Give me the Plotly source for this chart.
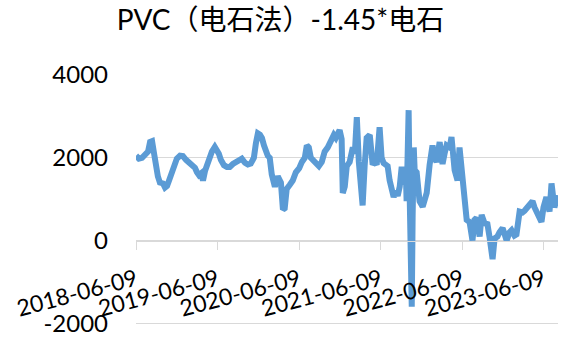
import plotly.graph_objects as go

# Spread series: PVC (carbide route) minus 1.45 x calcium carbide
dates = [
    "2018-06-09", "2018-06-22", "2018-07-06", "2018-07-19", "2018-08-02", "2018-08-11",
    "2018-08-20", "2018-08-29", "2018-09-06", "2018-09-15", "2018-09-24", "2018-10-08",
    "2018-10-17", "2018-10-26", "2018-11-04", "2018-11-13", "2018-11-26", "2018-12-09",
    "2018-12-23", "2019-01-05", "2019-01-19", "2019-02-01", "2019-02-14", "2019-02-28",
    "2019-03-09", "2019-03-18", "2019-03-27", "2019-04-05", "2019-04-14", "2019-04-23",
    "2019-05-02", "2019-05-15", "2019-05-28", "2019-06-15", "2019-06-24", "2019-07-08",
    "2019-07-21", "2019-08-03", "2019-08-17", "2019-08-30", "2019-09-13", "2019-09-26",
    "2019-10-10", "2019-10-23", "2019-11-05", "2019-11-19", "2019-11-28", "2019-12-07",
    "2019-12-16", "2019-12-25", "2020-01-03", "2020-01-11", "2020-01-20", "2020-01-29",
    "2020-02-07", "2020-02-21", "2020-03-05", "2020-03-19", "2020-03-28", "2020-04-05",
    "2020-04-14", "2020-04-28", "2020-05-11", "2020-05-25", "2020-06-09", "2020-06-21",
    "2020-07-04", "2020-07-13", "2020-07-22", "2020-07-31", "2020-08-09", "2020-08-22",
    "2020-09-05", "2020-09-18", "2020-10-01", "2020-10-15", "2020-10-28", "2020-11-11",
    "2020-11-20", "2020-11-29", "2020-12-07", "2020-12-16", "2020-12-21", "2020-12-30",
    "2021-01-08", "2021-01-21", "2021-02-04", "2021-02-13", "2021-02-22", "2021-03-03",
    "2021-03-11", "2021-03-20", "2021-03-29", "2021-04-07", "2021-04-21", "2021-05-04",
    "2021-05-13", "2021-05-22", "2021-06-04", "2021-06-13", "2021-06-22", "2021-07-01",
    "2021-07-10", "2021-07-19", "2021-07-28", "2021-08-06", "2021-08-15", "2021-08-24",
    "2021-09-02", "2021-09-11", "2021-09-20", "2021-09-29", "2021-10-03", "2021-10-08",
    "2021-10-12", "2021-10-17", "2021-10-21", "2021-10-26", "2021-10-30", "2021-11-04",
    "2021-11-08", "2021-11-17", "2021-11-30", "2021-12-14", "2021-12-23", "2022-01-01",
    "2022-01-14", "2022-01-27", "2022-02-05", "2022-02-14", "2022-02-28", "2022-03-13",
    "2022-03-22", "2022-03-31", "2022-04-14", "2022-04-22", "2022-05-06", "2022-05-19",
    "2022-05-28", "2022-06-09", "2022-06-20", "2022-06-29", "2022-07-12", "2022-07-25",
    "2022-08-03", "2022-08-12", "2022-08-26", "2022-09-04", "2022-09-17", "2022-09-30",
    "2022-10-09", "2022-10-23", "2022-11-01", "2022-11-14", "2022-11-23", "2022-12-07",
    "2022-12-16", "2022-12-25", "2023-01-07", "2023-01-16", "2023-01-29", "2023-02-07",
    "2023-02-21", "2023-03-06", "2023-03-15", "2023-03-28", "2023-04-06", "2023-04-20",
    "2023-04-29", "2023-05-07", "2023-05-21", "2023-05-30", "2023-06-08", "2023-06-21",
    "2023-07-05", "2023-07-14", "2023-07-27", "2023-08-10",
]
spread = [
    2050, 1980, 2000, 2080, 2150, 2380,
    2400, 2100, 1750, 1550, 1400, 1380,
    1280, 1320, 1450, 1600, 1800, 1980,
    2050, 2040, 1950, 1900, 1850, 1760,
    1650, 1580, 1620, 1450, 1680, 1820,
    2050, 2150, 2260, 2100, 1950, 1820,
    1780, 1780, 1850, 1900, 1950, 1980,
    1880, 1840, 1860, 2000, 2350, 2590,
    2560, 2480, 2300, 2150, 2050, 2000,
    1600, 1300, 1550, 1400, 750, 780,
    1250, 1350, 1450, 1650, 1750, 1900,
    2000, 2300, 2250, 2000, 1950, 1850,
    1800, 1900, 2150, 2250, 2400, 2550,
    2480, 2600, 2670, 2450, 1150, 1300,
    1800, 1900, 2250, 2100, 2980, 1900,
    1500, 850, 1800, 2480, 2550, 1830,
    1900, 1830, 2740, 2000, 1870, 1820,
    1800, 1450, 1150, 1050, 1200, 1080,
    1300, 1780, 1350, 1750, 950, 2400,
    3150, 1000, 200, -1600, 600, 2250,
    1700, 1650, 950, 820, 1000, 1150,
    1830, 2300, 2000, 1900, 2380, 1850,
    2100, 2300, 2250, 2500, 1700, 1450,
    2250, 1700, 1200, 500, 450, 0,
    500, 550, 100, 620, 420, 400,
    100, -450, 50, 100, 200, 300,
    150, 0, 200, 250, 120, 150,
    700, 680, 720, 820, 850, 950,
    800, 700, 550, 450, 800, 1050,
    700, 1380, 800, 1100,
]

x_ticks = ["2018-06-09", "2019-06-09", "2020-06-09", "2021-06-09", "2022-06-09", "2023-06-09"]
y_ticks = [-2000, 0, 2000, 4000]
y_tick_text = ["-2000", "0", "2000", "4000"]

LATIN = "Lato, 'Noto Sans CJK SC', sans-serif"
GRID = "#D9D9D9"

# value axis padded a little below -2000 so its gridline is not clipped at the edge
Y_MIN, Y_MAX = -2040, 4000

fig = go.Figure()
fig.add_trace(go.Scatter(
    x=dates, y=spread, mode="lines",
    line=dict(color="#5B9BD5", width=6),
    hoverinfo="skip", showlegend=False,
))

fig.update_layout(
    width=561, height=340,
    margin=dict(l=136, r=3, t=75, b=11),
    paper_bgcolor="white", plot_bgcolor="white",
    title=dict(
        text="PVC（电石法）-1.45*电石",
        x=0.5, xanchor="center", xref="container",
        y=0.94, yanchor="middle", yref="container",
        font=dict(family=LATIN, size=28, color="#000000"),
    ),
    xaxis=dict(
        type="date",
        range=["2018-06-09", "2023-08-12"],
        tickvals=x_ticks, ticktext=x_ticks,
        tickangle=-15,
        # date axis crosses the value axis at 0
        anchor="free", position=(0 - Y_MIN) / (Y_MAX - Y_MIN),
        showgrid=False, zeroline=False,
        showline=True, linecolor=GRID, linewidth=1,
        ticks="outside", ticklen=8, tickcolor=GRID,
        ticklabelstandoff=8,
        ticklabeloverflow="allow",
        tickfont=dict(family=LATIN, size=23, color="#000000"),
    ),
    yaxis=dict(
        range=[Y_MIN, Y_MAX],
        tickvals=y_ticks, ticktext=y_tick_text,
        showgrid=True, gridcolor=GRID, gridwidth=1,
        zeroline=False, showline=False, ticks="",
        ticklabelstandoff=27,
        ticklabeloverflow="allow",
        tickfont=dict(family=LATIN, size=24, color="#000000"),
    ),
)

fig.write_html("out.html")
